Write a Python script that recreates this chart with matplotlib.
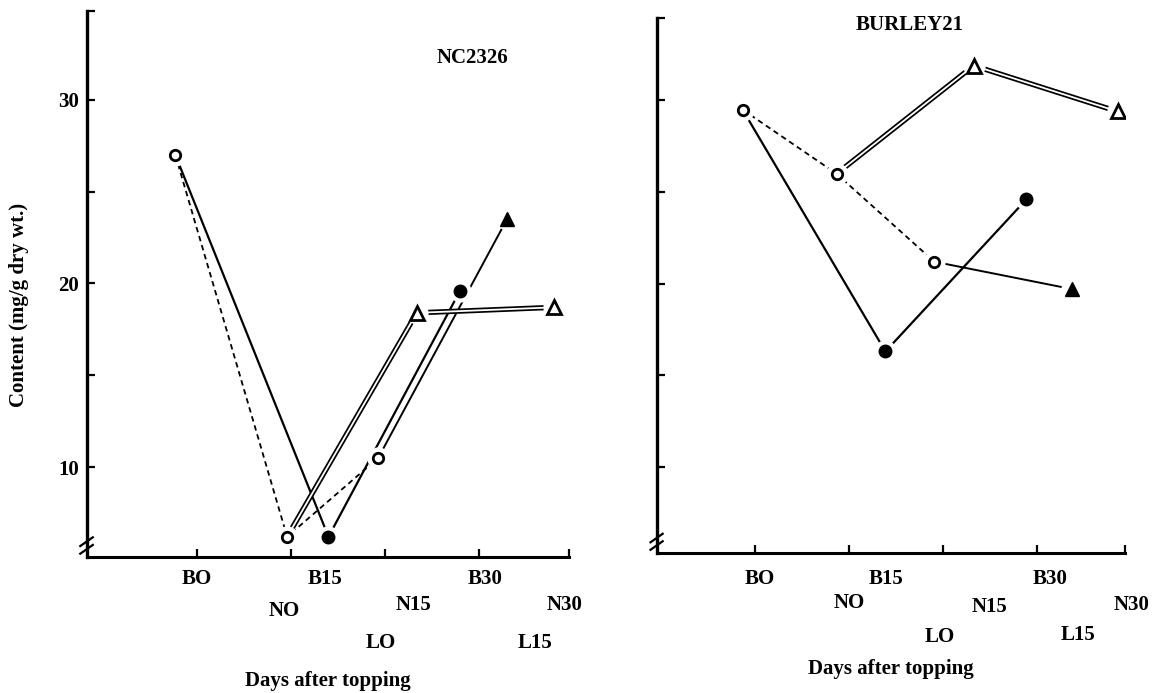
import matplotlib
matplotlib.use('Agg')
import matplotlib.pyplot as plt

plt.rcParams['font.family'] = ['Liberation Serif', 'DejaVu Serif']
plt.rcParams['font.weight'] = 'bold'

# sampling points (same order in both panels)
point_names = ['BO', 'NO', 'B15', 'LO', 'N15', 'B30', 'L15', 'N30']

# NC2326
nc_x = [0.77, 1.96, 2.40, 2.93, 3.34, 3.80, 4.30, 4.80]
nc_y = [27.0, 6.2, 6.2, 10.5, 18.4, 19.6, 23.5, 18.7]

# BURLEY21
bu_x = [0.87, 1.87, 2.39, 2.91, 3.33, 3.89, 4.38, 4.86]
bu_y = [29.5, 26.0, 16.3, 21.2, 31.9, 24.6, 19.7, 29.4]

series_b = ['BO', 'B15', 'B30']
series_n = ['NO', 'N15', 'N30']
series_l = ['LO', 'L15']
series_0 = ['BO', 'NO', 'LO']

# where the category names sit under each axis (x, pixels below axis)
nc_label_x = [1.0, 1.93, 2.36, 2.96, 3.31, 4.07, 4.60, 4.91]
nc_label_dy = [22, 54, 22, 86, 48, 22, 86, 48]
bu_label_x = [1.05, 2.0, 2.40, 2.97, 3.50, 4.14, 4.44, 5.01]
bu_label_dy = [26, 50, 26, 84, 54, 26, 82, 52]

FS = 15


def draw_panel(ax, xs, ys, xlim, ylim, lab_x, lab_dy, xlabel_dy):
    pos = dict(zip(point_names, zip(xs, ys)))

    def pts(names):
        return [pos[n][0] for n in names], [pos[n][1] for n in names]

    # lines
    x, y = pts(series_0)
    ax.plot(x, y, color='k', lw=1.3, ls=(0, (3, 2.2)), zorder=2)
    x, y = pts(series_b)
    ax.plot(x, y, color='k', lw=1.6, zorder=2)
    x, y = pts(series_l)
    ax.plot(x, y, color='k', lw=1.4, zorder=2)
    x, y = pts(series_n)
    ax.plot(x, y, color='k', lw=3.8, solid_capstyle='butt', zorder=2)
    ax.plot(x, y, color='w', lw=1.3, solid_capstyle='butt', zorder=2)

    # white gap around the symbols
    ax.plot(xs, ys, ls='none', marker='o', ms=15, mfc='w', mec='w', zorder=3)

    x, y = pts(['BO', 'NO', 'LO'])
    ax.plot(x, y, ls='none', marker='o', ms=7.5, mfc='w', mec='k', mew=2.0, zorder=4)
    x, y = pts(['B15', 'B30'])
    ax.plot(x, y, ls='none', marker='o', ms=9, color='k', zorder=4)
    x, y = pts(['N15', 'N30'])
    ax.plot(x, y, ls='none', marker='^', ms=9.5, mfc='w', mec='k', mew=2.0, zorder=4)
    x, y = pts(['L15'])
    ax.plot(x, y, ls='none', marker='^', ms=10, color='k', zorder=4)

    ax.set_xlim(xlim)
    ax.set_ylim(ylim)
    for s in ['top', 'right']:
        ax.spines[s].set_visible(False)
    ax.spines['left'].set_linewidth(2.4)
    ax.spines['bottom'].set_linewidth(2.2)
    ax.set_xticks([1, 2, 3, 4, xlim[1]])
    ax.set_xticklabels([])
    ax.set_yticks([10, 15, 20, 25, 30, ylim[1]])
    ax.tick_params(direction='in', length=6, width=1.6, labelsize=FS, pad=6)

    # axis break
    for dy in (0.0, 0.014):
        ax.plot([-0.014, 0.012], [0.006 + dy, 0.022 + dy], transform=ax.transAxes,
                color='k', lw=1.6, clip_on=False, zorder=5)

    for name, lx, ldy in zip(point_names, lab_x, lab_dy):
        ax.annotate(name, xy=(lx, 0), xycoords=('data', 'axes fraction'),
                    xytext=(0, -ldy * 0.72), textcoords='offset points',
                    ha='center', va='center', fontsize=FS, fontweight='bold')
    ax.annotate('Days after topping', xy=(0.5, 0), xycoords='axes fraction',
                xytext=(0, -xlabel_dy * 0.72), textcoords='offset points',
                ha='center', va='center', fontsize=FS, fontweight='bold')


fig = plt.figure(figsize=(11.65, 6.93), dpi=100)
ax1 = fig.add_axes([0.0747, 0.1963, 0.4137, 0.788])
ax2 = fig.add_axes([0.564, 0.202, 0.4017, 0.772])

draw_panel(ax1, nc_x, nc_y, (-0.17, 4.96), (5.1, 34.85), nc_label_x, nc_label_dy, 124)
ax1.set_yticklabels(['10', '', '20', '', '30', ''])
ax1.text(0.80, 0.914, 'NC2326', transform=ax1.transAxes, ha='center', va='center',
         fontsize=FS, fontweight='bold')

draw_panel(ax2, bu_x, bu_y, (-0.04, 4.94), (5.3, 34.5), bu_label_x, bu_label_dy, 116)
ax2.set_yticklabels([])
ax2.text(0.54, 0.987, 'BURLEY21', transform=ax2.transAxes, ha='center', va='center',
         fontsize=FS, fontweight='bold')

fig.text(0.016, 0.56, 'Content (mg/g dry wt.)', rotation=90, ha='center', va='center',
         fontsize=FS, fontweight='bold')

fig.savefig('out.png', dpi=100)
